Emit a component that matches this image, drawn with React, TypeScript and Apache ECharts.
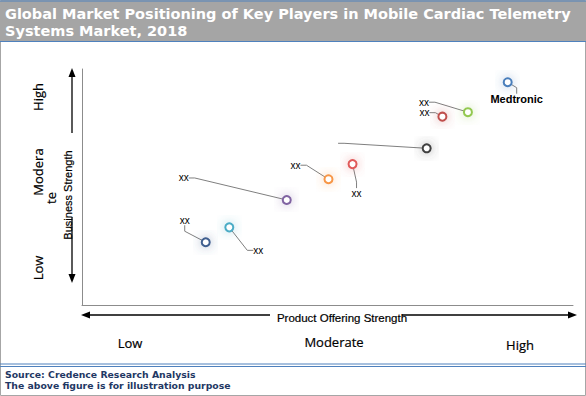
import React, { useEffect, useRef } from 'react';
import * as echarts from 'echarts';

// ---- Data ----
const pointNames = ['Medtronic', 'xx', 'xx', '\u00a0', 'xx', 'xx', 'xx', 'xx', 'xx'];
const productStrength = [8.67, 7.86, 7.34, 7.02, 5.51, 5.02, 4.17, 3.0, 2.52];
const businessStrength = [9.44, 8.17, 7.98, 6.64, 5.97, 5.33, 4.45, 3.29, 2.66];
const xLevelLabels = ['Low', 'Moderate', 'High'];
const yLevelLabels = ['Low', 'Modera\nte', 'High'];

// ---- Styles / layout ----
const pointColors = ['#4a7ebb', '#92c84f', '#c0504d', '#404040', '#e05a5a', '#f79646', '#8064a2', '#4bacc6', '#3f5f8f'];
const labelOffsets = [[9, 17], [-44, -10], [-18, -4], [-90, -5], [4, 29], [-33, -14], [-103, -22], [29, 23], [-21, -22]];
const xLevelPos = [[130, 343], [334, 342], [520, 345]];
const yLevelPos = [[38, 268], [38, 172], [38, 97]];

function rgba(hex: string, a: number) {
  const n = parseInt(hex.slice(1), 16);
  return `rgba(${(n >> 16) & 255},${(n >> 8) & 255},${n & 255},${a})`;
}

export default function App() {
  const ref = useRef<HTMLDivElement>(null);
  useEffect(() => {
    const chart = echarts.init(ref.current!, null, { renderer: 'svg' });
    const data = pointNames.map((n, i) => ({
      name: n,
      value: [productStrength[i], businessStrength[i]],
      itemStyle: {
        color: pointColors[i],
        borderColor: pointColors[i],
        shadowColor: rgba(pointColors[i], 0.5),
      },
      label: n === 'Medtronic' ? { fontWeight: 'bold', fontSize: 11 } : undefined,
    }));

    const blue = '#4f81bd';
    const graphics: any[] = [
      { type: 'rect', shape: { x: 0.5, y: 0.5, width: 585, height: 395 }, style: { fill: 'none', stroke: '#a6a6a6', lineWidth: 1 }, z: 0 },
      { type: 'rect', shape: { x: 0, y: 1, width: 586, height: 40 }, style: { fill: '#a5a5a5' } },
      { type: 'line', shape: { x1: 0, y1: 1, x2: 586, y2: 1 }, style: { stroke: blue, lineWidth: 1.2 } },
      { type: 'line', shape: { x1: 0, y1: 41.5, x2: 586, y2: 41.5 }, style: { stroke: blue, lineWidth: 1.2 } },
      {
        type: 'text', x: 5, y: 5,
        style: {
          text: 'Global Market Positioning of Key Players in Mobile Cardiac Telemetry\nSystems Market, 2018',
          fill: '#ffffff', font: 'bold 14.5px "DejaVu Sans"', lineHeight: 17,
        },
      },
      { type: 'line', shape: { x1: 0, y1: 364, x2: 586, y2: 364 }, style: { stroke: blue, lineWidth: 1 } },
      { type: 'line', shape: { x1: 0, y1: 366.5, x2: 586, y2: 366.5 }, style: { stroke: blue, lineWidth: 1 } },
      {
        type: 'text', x: 5, y: 369,
        style: {
          text: 'Source: Credence Research Analysis\nThe above figure is for illustration purpose',
          fill: '#1f3864', font: 'bold 9.3px "DejaVu Sans"', lineHeight: 11,
        },
      },
      // X arrow
      { type: 'line', shape: { x1: 88, y1: 315, x2: 270, y2: 315 }, style: { stroke: '#000', lineWidth: 1.3 } },
      { type: 'line', shape: { x1: 402, y1: 315, x2: 571, y2: 315 }, style: { stroke: '#000', lineWidth: 1.3 } },
      { type: 'polygon', shape: { points: [[81, 315], [90, 311.5], [90, 318.5]] }, style: { fill: '#000' } },
      { type: 'polygon', shape: { points: [[577, 315], [568, 311.5], [568, 318.5]] }, style: { fill: '#000' } },
      {
        type: 'text', x: 342, y: 318,
        style: { text: 'Product Offering Strength', fill: '#000', font: '11.5px "Liberation Sans"', align: 'center', verticalAlign: 'middle', stroke: '#000', lineWidth: 0.2 },
      },
      // Y arrow
      { type: 'line', shape: { x1: 72, y1: 74, x2: 72, y2: 133 }, style: { stroke: '#000', lineWidth: 1.3 } },
      { type: 'line', shape: { x1: 72, y1: 217, x2: 72, y2: 277 }, style: { stroke: '#000', lineWidth: 1.3 } },
      { type: 'polygon', shape: { points: [[72, 68], [68.5, 77], [75.5, 77]] }, style: { fill: '#000' } },
      { type: 'polygon', shape: { points: [[72, 283], [68.5, 274], [75.5, 274]] }, style: { fill: '#000' } },
      {
        type: 'text', x: 68, y: 195, rotation: Math.PI / 2,
        style: { text: 'Business Strength', fill: '#000', font: '11px "Liberation Sans"', align: 'center', verticalAlign: 'middle', stroke: '#000', lineWidth: 0.2 },
      },
    ];
    xLevelLabels.forEach((t, i) => {
      graphics.push({
        type: 'text', x: xLevelPos[i][0], y: xLevelPos[i][1],
        style: { text: t, fill: '#000', font: '13px "Open Sans"', align: 'center', verticalAlign: 'middle', stroke: '#000', lineWidth: 0.2 },
      });
    });
    yLevelLabels.forEach((t, i) => {
      const parts = t.split('\n');
      parts.forEach((p, j) => {
        graphics.push({
          type: 'text', x: yLevelPos[i][0] + j * 13, y: yLevelPos[i][1] + j * 26, rotation: Math.PI / 2,
          style: { text: p, fill: '#000', font: '13px "Open Sans"', align: 'center', verticalAlign: 'middle', stroke: '#000', lineWidth: 0.2 },
        });
      });
    });

    chart.setOption({
      animation: false,
      backgroundColor: '#ffffff',
      grid: { left: 82, top: 69, width: 491, height: 236 },
      xAxis: {
        type: 'value', min: 0, max: 10,
        axisLine: { show: true, onZero: false, lineStyle: { color: '#8c8c8c', width: 1 } },
        axisTick: { show: false }, axisLabel: { show: false }, splitLine: { show: false },
      },
      yAxis: {
        type: 'value', min: 0, max: 10,
        axisLine: { show: true, onZero: false, lineStyle: { color: '#8c8c8c', width: 1 } },
        axisTick: { show: false }, axisLabel: { show: false }, splitLine: { show: false },
      },
      graphic: graphics,
      series: [
        {
          type: 'scatter',
          symbol: 'emptyCircle',
          symbolSize: 8,
          itemStyle: { borderWidth: 1.2, shadowBlur: 11, opacity: 1 },
          label: {
            show: true, position: 'inside', formatter: '{b}', color: '#000',
            fontFamily: 'Liberation Sans', fontSize: 10, align: 'center', verticalAlign: 'middle',
          },
          labelLine: { show: true, length2: 6, lineStyle: { color: '#7f7f7f', width: 1 } },
          labelLayout: (p: any) => {
            const o = labelOffsets[p.dataIndex];
            return { dx: o[0], dy: o[1], hideOverlap: false };
          },
          emphasis: { disabled: true },
          data,
          z: 5,
        },
      ],
    });
    return () => chart.dispose();
  }, []);
  return <div ref={ref} style={{ position: 'absolute', left: 0, top: 0, width: 586, height: 396 }} />;
}
